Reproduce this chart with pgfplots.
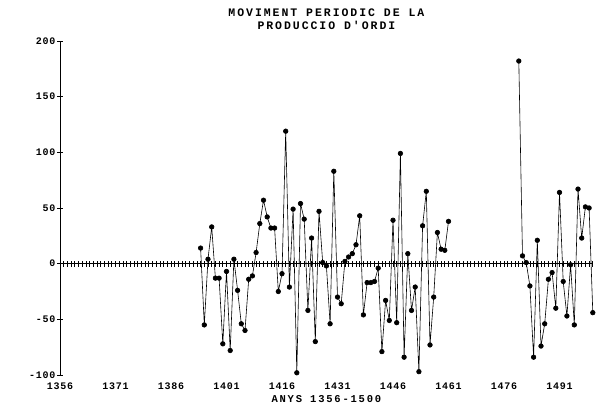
\documentclass[border=0pt]{standalone}
\usepackage{pgfplots}
\pgfplotsset{compat=1.18}
\usepackage{fontspec}
\setmainfont{Liberation Mono}
\newfontfamily\ticfont{Liberation Mono Bold}[LetterSpace=8]
\newfontfamily\titfont{Liberation Mono Bold}[LetterSpace=17]
\pgfplotstableread{
year val
1394 14
1395 -55
1396 4
1397 33
1398 -13
1399 -13
1400 -72
1401 -7
1402 -78
1403 4
1404 -24
1405 -54
1406 -60
1407 -14
1408 -11
1409 10
1410 36
1411 57
1412 42
1413 32
1414 32
1415 -25
1416 -9
1417 119
1418 -21
1419 49
1420 -98
1421 54
1422 40
1423 -42
1424 23
1425 -70
1426 47
1427 1
1428 -2
1429 -54
1430 83
1431 -30
1432 -36
1433 2
1434 6
1435 9
1436 17
1437 43
1438 -46
1439 -17
1440 -17
1441 -16
1442 -4
1443 -79
1444 -33
1445 -51
1446 39
1447 -53
1448 99
1449 -84
1450 9
1451 -42
1452 -21
1453 -97
1454 34
1455 65
1456 -73
1457 -30
1458 28
1459 13
1460 12
1461 38
}\segA
\pgfplotstableread{
year val
1480 182
1481 7
1482 1
1483 -20
1484 -84
1485 21
1486 -74
1487 -54
1488 -14
1489 -8
1490 -40
1491 64
1492 -16
1493 -47
1494 -1
1495 -55
1496 67
1497 23
1498 51
1499 50
1500 -44
}\segB
\begin{document}
\begin{tikzpicture}
\useasboundingbox (-60pt,-31pt) rectangle (555pt,375pt);
\begin{axis}[
  at={(0pt,0pt)}, anchor=south west,
  scale only axis, width=532.8pt, height=334pt,
  xmin=1356, xmax=1500, ymin=-100, ymax=200,
  axis x line=middle, axis y line=left,
  axis line style={-, line width=0.8pt},
  xtick={1356,1371,1386,1401,1416,1431,1446,1461,1476,1491},
  minor xtick={1356,1357,...,1500},
  xticklabels={1356,1371,1386,1401,1416,1431,1446,1461,1476,1491},
  ytick={-100,-50,0,50,100,150,200},
  yticklabels={-100,-50,0,50,100,150,200},
  tick align=center, major tick length=6pt, minor tick length=6pt,
  tick style={black, line width=0.6pt},
  hide obscured x ticks=false, hide obscured y ticks=false,
  ticklabel style={font=\ticfont\fontsize{10}{11}\selectfont},
  yticklabel style={xshift=2pt},
  xticklabel style={anchor=center, yshift=-120pt},
  xlabel={ANYS 1356-1500},
  xlabel style={at={(axis description cs:0.5,0)}, anchor=center, yshift=-24pt, font=\titfont\fontsize{10.5}{11}\selectfont},
  title={MOVIMENT PERIODIC DE LA\\PRODUCCIO D'ORDI},
  title style={at={(axis description cs:0.5,1)}, anchor=south, yshift=2pt, align=center, font=\titfont\fontsize{11.5}{12.5}\selectfont},
  clip=false,
]
\addplot[black, line width=0.6pt, mark=*, mark size=2.3pt, mark options={fill=black}] table[x=year, y=val] {\segA};
\addplot[black, line width=0.6pt, mark=*, mark size=2.3pt, mark options={fill=black}] table[x=year, y=val] {\segB};
\end{axis}
\end{tikzpicture}
\end{document}
